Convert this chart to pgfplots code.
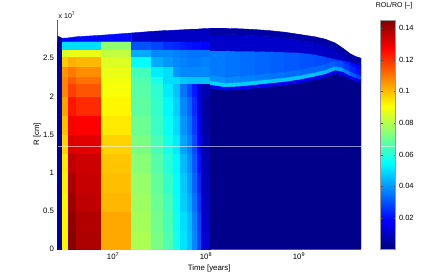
\documentclass[border=0pt]{standalone}
\usepackage{fontspec}
\setmainfont{Liberation Sans}
\usepackage{pgfplots}
\pgfplotsset{compat=1.18}
\begin{document}
\begin{tikzpicture}
\path[use as bounding box] (-57.5pt,-31pt) rectangle (383.5pt,249pt);
\begin{axis}[
  at={(0,0)}, anchor=south west,
  scale only axis, width=303.5pt, height=229pt,
  xmode=log,
  xmin=2.529e6, xmax=4.645e9, ymin=0, ymax=3,
  enlargelimits=false, clip=false,
  axis x line*=bottom, axis y line*=left,
  axis line style={gray!75!black, line width=0.4pt},
  tick style={draw=none}, minor tick style={draw=none},
  xtick={1e7,1e8,1e9},
  xticklabels={10\textsuperscript{7},10\textsuperscript{8},10\textsuperscript{9}},
  ytick={0,0.5,1,1.5,2,2.5},
  yticklabels={0,0.5,1,1.5,2,2.5},
  tick label style={font=\fontsize{7.8}{9}\selectfont},
  xlabel={Time [years]}, ylabel={R [cm]},
  xlabel style={font=\fontsize{7.8}{9}\selectfont, at={(axis description cs:0.5,-0.083)}, anchor=center},
  ylabel style={font=\fontsize{7.8}{9}\selectfont, at={(axis description cs:-0.0676,0.5)}, anchor=center, rotate=0},
  colormap/jet,
  point meta min=0.0005, point meta max=0.145,
  colorbar right,
  colorbar style={
    at={(parent axis.north east)}, anchor=north west, xshift=11pt,
    width=15pt,
    ytick={0.02,0.04,0.06,0.08,0.1,0.12,0.14},
    yticklabels={0.02,0.04,0.06,0.08,0.1,0.12,0.14},
    yticklabel style={font=\fontsize{7.5}{9}\selectfont},
    ytick pos=both, yticklabel pos=right,
    major tick length=2pt, tick align=inside,
    tick style={draw=gray!60!black},
    axis line style={draw=gray!80},
    title={ROL/RO [--]},
    title style={font=\fontsize{7}{8}\selectfont, at={(0.5,1)}, anchor=south, inner sep=0pt, yshift=4.5pt, xshift=6pt},
    execute at end axis={\draw[white, opacity=0.55, line width=0.5pt] (rel axis cs:0,0.45) -- (rel axis cs:1,0.45);}
  },
]
% left region (blocky columns)
\addplot[surf, shader=flat corner, point meta=explicit, mesh/cols=15, mesh/rows=16] coordinates {
(2.529e6,0)[.003] (2.851e6,0)[.092] (3.304e6,0)[.144] (3.999e6,0)[.139] (7.430e6,0)[.103] (1.581e7,0)[.079] (2.564e7,0)[.072] (3.451e7,0)[.066] (4.416e7,0)[.058] (5.248e7,0)[.051] (6.252e7,0)[.046] (7.063e7,0)[.038] (7.998e7,0)[.029] (8.831e7,0)[.012] (1.104e8,0)[.012]
(2.529e6,0.25)[.003] (2.851e6,0.25)[.092] (3.304e6,0.25)[.143] (3.999e6,0.25)[.138] (7.430e6,0.25)[.103] (1.581e7,0.25)[.078] (2.564e7,0.25)[.071] (3.451e7,0.25)[.065] (4.416e7,0.25)[.057] (5.248e7,0.25)[.050] (6.252e7,0.25)[.045] (7.063e7,0.25)[.037] (7.998e7,0.25)[.028] (8.831e7,0.25)[.011] (1.104e8,0.25)[.011]
(2.529e6,0.5)[.003] (2.851e6,0.5)[.092] (3.304e6,0.5)[.141] (3.999e6,0.5)[.136] (7.430e6,0.5)[.101] (1.581e7,0.5)[.077] (2.564e7,0.5)[.070] (3.451e7,0.5)[.064] (4.416e7,0.5)[.056] (5.248e7,0.5)[.048] (6.252e7,0.5)[.043] (7.063e7,0.5)[.035] (7.998e7,0.5)[.026] (8.831e7,0.5)[.010] (1.104e8,0.5)[.010]
(2.529e6,0.75)[.003] (2.851e6,0.75)[.093] (3.304e6,0.75)[.139] (3.999e6,0.75)[.135] (7.430e6,0.75)[.100] (1.581e7,0.75)[.076] (2.564e7,0.75)[.069] (3.451e7,0.75)[.062] (4.416e7,0.75)[.055] (5.248e7,0.75)[.047] (6.252e7,0.75)[.041] (7.063e7,0.75)[.033] (7.998e7,0.75)[.024] (8.831e7,0.75)[.009] (1.104e8,0.75)[.009]
(2.529e6,1.0)[.003] (2.851e6,1.0)[.094] (3.304e6,1.0)[.136] (3.999e6,1.0)[.134] (7.430e6,1.0)[.099] (1.581e7,1.0)[.074] (2.564e7,1.0)[.067] (3.451e7,1.0)[.060] (4.416e7,1.0)[.054] (5.248e7,1.0)[.045] (6.252e7,1.0)[.039] (7.063e7,1.0)[.031] (7.998e7,1.0)[.021] (8.831e7,1.0)[.008] (1.104e8,1.0)[.008]
(2.529e6,1.25)[.003] (2.851e6,1.25)[.097] (3.304e6,1.25)[.132] (3.999e6,1.25)[.131] (7.430e6,1.25)[.097] (1.581e7,1.25)[.072] (2.564e7,1.25)[.065] (3.451e7,1.25)[.058] (4.416e7,1.25)[.052] (5.248e7,1.25)[.042] (6.252e7,1.25)[.037] (7.063e7,1.25)[.029] (7.998e7,1.25)[.019] (8.831e7,1.25)[.007] (1.104e8,1.25)[.007]
(2.529e6,1.5)[.003] (2.851e6,1.5)[.100] (3.304e6,1.5)[.128] (3.999e6,1.5)[.127] (7.430e6,1.5)[.094] (1.581e7,1.5)[.070] (2.564e7,1.5)[.063] (3.451e7,1.5)[.056] (4.416e7,1.5)[.050] (5.248e7,1.5)[.040] (6.252e7,1.5)[.035] (7.063e7,1.5)[.027] (7.998e7,1.5)[.017] (8.831e7,1.5)[.006] (1.104e8,1.5)[.006]
(2.529e6,1.75)[.003] (2.851e6,1.75)[.104] (3.304e6,1.75)[.124] (3.999e6,1.75)[.121] (7.430e6,1.75)[.092] (1.581e7,1.75)[.068] (2.564e7,1.75)[.062] (3.451e7,1.75)[.054] (4.416e7,1.75)[.048] (5.248e7,1.75)[.038] (6.252e7,1.75)[.033] (7.063e7,1.75)[.025] (7.998e7,1.75)[.015] (8.831e7,1.75)[.005] (1.104e8,1.75)[.005]
(2.529e6,2.0)[.003] (2.851e6,2.0)[.108] (3.304e6,2.0)[.118] (3.999e6,2.0)[.115] (7.430e6,2.0)[.090] (1.581e7,2.0)[.067] (2.564e7,2.0)[.061] (3.451e7,2.0)[.052] (4.416e7,2.0)[.046] (5.248e7,2.0)[.035] (6.252e7,2.0)[.029] (7.063e7,2.0)[.022] (7.998e7,2.0)[.014] (8.831e7,2.0)[.008] (1.104e8,2.0)[.008]
(2.529e6,2.17)[.003] (2.851e6,2.17)[.108] (3.304e6,2.17)[.114] (3.999e6,2.17)[.111] (7.430e6,2.17)[.089] (1.581e7,2.17)[.066] (2.564e7,2.17)[.058] (3.451e7,2.17)[.050] (4.416e7,2.17)[.050] (5.248e7,2.17)[.047] (6.252e7,2.17)[.046] (7.063e7,2.17)[.046] (7.998e7,2.17)[.046] (8.831e7,2.17)[.046] (1.104e8,2.17)[.046]
(2.529e6,2.27)[.003] (2.851e6,2.27)[.106] (3.304e6,2.27)[.110] (3.999e6,2.27)[.107] (7.430e6,2.27)[.088] (1.581e7,2.27)[.064] (2.564e7,2.27)[.052] (3.451e7,2.27)[.050] (4.416e7,2.27)[.040] (5.248e7,2.27)[.038] (6.252e7,2.27)[.038] (7.063e7,2.27)[.038] (7.998e7,2.27)[.038] (8.831e7,2.27)[.038] (1.104e8,2.27)[.038]
(2.529e6,2.4)[.003] (2.851e6,2.4)[.098] (3.304e6,2.4)[.102] (3.999e6,2.4)[.101] (7.430e6,2.4)[.086] (1.581e7,2.4)[.055] (2.564e7,2.4)[.043] (3.451e7,2.4)[.040] (4.416e7,2.4)[.038] (5.248e7,2.4)[.037] (6.252e7,2.4)[.036] (7.063e7,2.4)[.036] (7.998e7,2.4)[.036] (8.831e7,2.4)[.037] (1.104e8,2.4)[.037]
(2.529e6,2.52)[.003] (2.851e6,2.52)[.085] (3.304e6,2.52)[.088] (3.999e6,2.52)[.088] (7.430e6,2.52)[.082] (1.581e7,2.52)[.043] (2.564e7,2.52)[.038] (3.451e7,2.52)[.038] (4.416e7,2.52)[.037] (5.248e7,2.52)[.036] (6.252e7,2.52)[.035] (7.063e7,2.52)[.035] (7.998e7,2.52)[.035] (8.831e7,2.52)[.035] (1.104e8,2.52)[.035]
(2.529e6,2.62)[.003] (2.851e6,2.62)[.050] (3.304e6,2.62)[.050] (3.999e6,2.62)[.050] (7.430e6,2.62)[.075] (1.581e7,2.62)[.030] (2.564e7,2.62)[.028] (3.451e7,2.62)[.025] (4.416e7,2.62)[.024] (5.248e7,2.62)[.022] (6.252e7,2.62)[.021] (7.063e7,2.62)[.020] (7.998e7,2.62)[.020] (8.831e7,2.62)[.019] (1.104e8,2.62)[.019]
(2.529e6,2.72)[.003] (2.851e6,2.72)[.018] (3.304e6,2.72)[.018] (3.999e6,2.72)[.020] (7.430e6,2.72)[.020] (1.581e7,2.72)[.011] (2.564e7,2.72)[.010] (3.451e7,2.72)[.010] (4.416e7,2.72)[.010] (5.248e7,2.72)[.010] (6.252e7,2.72)[.010] (7.063e7,2.72)[.010] (7.998e7,2.72)[.010] (8.831e7,2.72)[.010] (1.104e8,2.72)[.010]
(2.529e6,2.79)[.003] (2.851e6,2.76)[.018] (3.304e6,2.765)[.018] (3.999e6,2.78)[.020] (7.430e6,2.80)[.020] (1.581e7,2.83)[.011] (2.564e7,2.85)[.010] (3.451e7,2.86)[.010] (4.416e7,2.865)[.010] (5.248e7,2.87)[.010] (6.252e7,2.875)[.010] (7.063e7,2.88)[.010] (7.998e7,2.88)[.010] (8.831e7,2.885)[.010] (1.104e8,2.89)[.010]
};
% right region (late times)
\addplot[surf, shader=flat corner, point meta=explicit, mesh/cols=14, mesh/rows=8] coordinates {
(1.104e8,0)[.002] (1.600e8,0)[.002] (2.323e8,0)[.002] (3.365e8,0)[.002] (4.875e8,0)[.002] (7.063e8,0)[.002] (1.026e9,0)[.002] (1.486e9,0)[.002] (1.905e9,0)[.002] (2.438e9,0)[.002] (2.972e9,0)[.002] (3.532e9,0)[.002] (4.102e9,0)[.002] (4.645e9,0)[.002]
(1.104e8,2.11)[.016] (1.600e8,2.08)[.016] (2.323e8,2.09)[.016] (3.365e8,2.11)[.016] (4.875e8,2.13)[.016] (7.063e8,2.15)[.016] (1.026e9,2.18)[.016] (1.486e9,2.22)[.016] (1.905e9,2.25)[.016] (2.438e9,2.30)[.016] (2.972e9,2.28)[.016] (3.532e9,2.23)[.016] (4.102e9,2.20)[.016] (4.645e9,2.18)[.016]
(1.104e8,2.155)[.049] (1.600e8,2.125)[.049] (2.323e8,2.135)[.048] (3.365e8,2.155)[.048] (4.875e8,2.175)[.047] (7.063e8,2.195)[.047] (1.026e9,2.225)[.046] (1.486e9,2.265)[.045] (1.905e9,2.295)[.044] (2.438e9,2.345)[.042] (2.972e9,2.325)[.037] (3.532e9,2.275)[.032] (4.102e9,2.245)[.028] (4.645e9,2.225)[.028]
(1.104e8,2.205)[.039] (1.600e8,2.175)[.038] (2.323e8,2.185)[.037] (3.365e8,2.205)[.036] (4.875e8,2.225)[.035] (7.063e8,2.245)[.034] (1.026e9,2.275)[.033] (1.486e9,2.315)[.033] (1.905e9,2.345)[.032] (2.438e9,2.395)[.030] (2.972e9,2.375)[.027] (3.532e9,2.325)[.024] (4.102e9,2.295)[.021] (4.645e9,2.275)[.021]
(1.104e8,2.28)[.036] (1.600e8,2.25)[.035] (2.323e8,2.26)[.034] (3.365e8,2.28)[.033] (4.875e8,2.30)[.032] (7.063e8,2.32)[.031] (1.026e9,2.35)[.030] (1.486e9,2.39)[.029] (1.905e9,2.42)[.028] (2.438e9,2.47)[.026] (2.972e9,2.45)[.024] (3.532e9,2.40)[.021] (4.102e9,2.37)[.019] (4.645e9,2.35)[.019]
(1.104e8,2.60)[.011] (1.600e8,2.60)[.011] (2.323e8,2.59)[.011] (3.365e8,2.59)[.011] (4.875e8,2.585)[.011] (7.063e8,2.58)[.011] (1.026e9,2.57)[.011] (1.486e9,2.55)[.010] (1.905e9,2.52)[.010] (2.438e9,2.49)[.010] (2.972e9,2.47)[.010] (3.532e9,2.45)[.010] (4.102e9,2.42)[.010] (4.645e9,2.40)[.010]
(1.104e8,2.81)[.006] (1.600e8,2.81)[.006] (2.323e8,2.805)[.006] (3.365e8,2.795)[.006] (4.875e8,2.78)[.006] (7.063e8,2.76)[.006] (1.026e9,2.73)[.006] (1.486e9,2.70)[.006] (1.905e9,2.67)[.006] (2.438e9,2.62)[.006] (2.972e9,2.55)[.006] (3.532e9,2.48)[.006] (4.102e9,2.44)[.006] (4.645e9,2.42)[.006]
(1.104e8,2.89)[.006] (1.600e8,2.89)[.006] (2.323e8,2.885)[.006] (3.365e8,2.875)[.006] (4.875e8,2.86)[.006] (7.063e8,2.84)[.006] (1.026e9,2.81)[.006] (1.486e9,2.78)[.006] (1.905e9,2.75)[.006] (2.438e9,2.70)[.006] (2.972e9,2.63)[.006] (3.532e9,2.56)[.006] (4.102e9,2.52)[.006] (4.645e9,2.50)[.006]
};
\addplot[white, opacity=0.55, line width=0.5pt, forget plot] coordinates {(2.529e6,1.34) (4.645e9,1.34)};
\node[anchor=south west, inner sep=1pt, font=\fontsize{7}{8}\selectfont] at (rel axis cs:0,1) {x 10\textsuperscript{7}};
\end{axis}
\end{tikzpicture}
\end{document}
